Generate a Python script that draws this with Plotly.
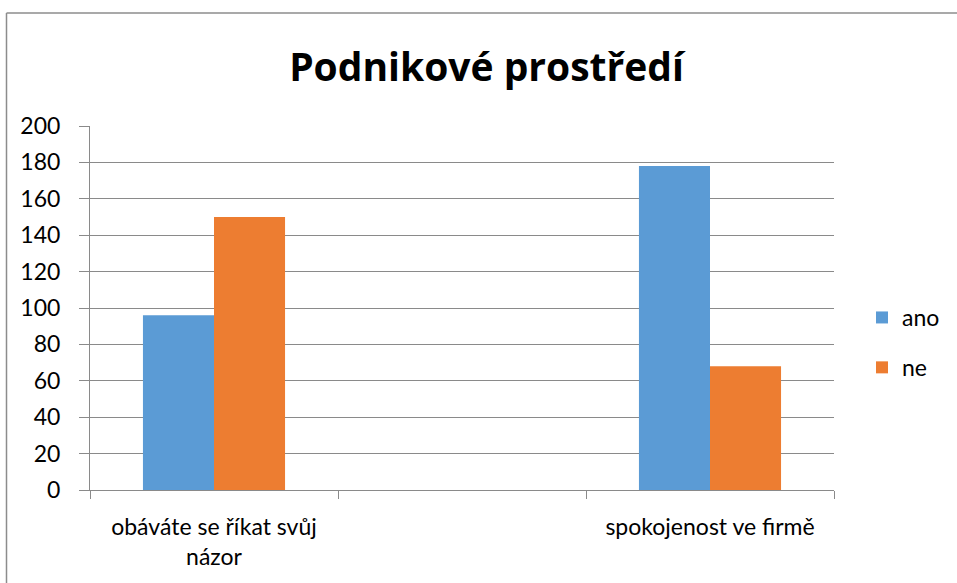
import plotly.graph_objects as go

categories = ["obáváte se říkat svůj<br>názor", " ", "spokojenost ve firmě"]
series_names = ["ano", "ne"]
ano_values = [96, None, 178]
ne_values = [150, None, 68]
y_ticks = [0, 20, 40, 60, 80, 100, 120, 140, 160, 180, 200]
title_text = "Podnikové prostředí"

FONT = "Lato, 'Open Sans', sans-serif"
TITLE_FONT = "'Open Sans', Lato, sans-serif"
GRID = "#8a8a8a"

W, H = 957, 583
L, R, T, B = 90, 123, 126, 93
pw, ph = W - L - R, H - T - B

fig = go.Figure()
fig.add_trace(go.Bar(name=series_names[0], x=categories, y=ano_values,
                     marker=dict(color="#5B9BD5", line=dict(width=0)), legendgroup="a"))
fig.add_trace(go.Bar(name=series_names[1], x=categories, y=ne_values,
                     marker=dict(color="#ED7D31", line=dict(width=0)), legendgroup="b"))

def px_x(x):
    return (x - L) / pw

def px_y(y):
    return 1 - (y - T) / ph

fig.update_layout(
    width=W, height=H,
    margin=dict(l=L, r=R, t=T, b=B, autoexpand=False),
    paper_bgcolor="white", plot_bgcolor="white",
    barmode="group", bargap=0.427, bargroupgap=0,
    font=dict(family=FONT, size=23, color="#000000"),
    title=dict(text="<b>" + title_text + "</b>", x=486.5 / W,
               xanchor="center", y=1 - 67 / H, yanchor="middle",
               font=dict(family=TITLE_FONT, size=39, color="#000000")),
    legend=dict(x=px_x(862), y=px_y(296), xanchor="left", yanchor="top",
                font=dict(family=FONT, size=23), tracegroupgap=17,
                itemwidth=30, bgcolor="rgba(0,0,0,0)"),
    xaxis=dict(type="category", showgrid=False, showline=True, linecolor=GRID, linewidth=1,
               ticks="outside", tickson="boundaries", ticklen=8, tickcolor=GRID,
               ticklabelstandoff=16,
               tickfont=dict(family=FONT, size=23), range=[-0.5, 2.5]),
    yaxis=dict(range=[0, 200], tickvals=y_ticks, showgrid=True, gridcolor=GRID, gridwidth=1,
               showline=True, linecolor=GRID, linewidth=1, ticks="outside", ticklen=10,
               tickcolor=GRID, zeroline=False, ticklabelstandoff=14,
               tickfont=dict(family=FONT, size=23)),
    showlegend=True,
)

# chart-area frame (left and top edges visible in the reference)
fig.add_shape(type="line", xref="paper", yref="paper",
              x0=px_x(6.5), x1=px_x(6.5), y0=px_y(600), y1=px_y(13),
              line=dict(color="#8c8c8c", width=1.5))
fig.add_shape(type="line", xref="paper", yref="paper",
              x0=px_x(6.5), x1=px_x(980), y0=px_y(13), y1=px_y(13),
              line=dict(color="#8c8c8c", width=1.5))

fig.write_html("out.html", config={"displayModeBar": False},
               post_script="document.body.style.margin='0';document.body.style.overflow='hidden';")
